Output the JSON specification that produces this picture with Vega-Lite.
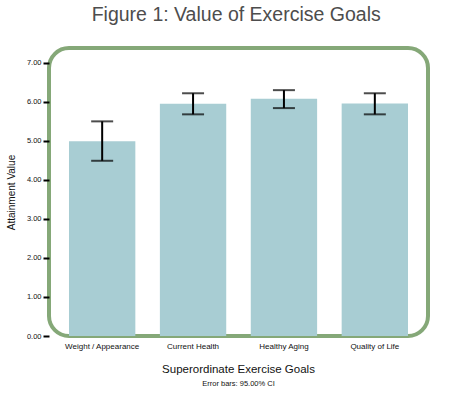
{
  "$schema": "https://vega.github.io/schema/vega-lite/v6.json",
  "padding": {"left": 4, "top": 4, "right": 5, "bottom": 5},
  "background": "white",
  "config": {
    "font": "Liberation Sans",
    "view": {"stroke": "#85a878", "strokeWidth": 4, "cornerRadius": 20}
  },
  "title": {"text": "Figure 1: Value of Exercise Goals", "anchor": "middle", "dx": 19, "fontSize": 19.5, "fontWeight": "normal", "color": "#4d4d4d", "offset": 21},
  "data": {"values": [
    {"goal": "Weight / Appearance", "value": 4.99, "lo": 4.49, "hi": 5.50},
    {"goal": "Current Health", "value": 5.95, "lo": 5.68, "hi": 6.22},
    {"goal": "Healthy Aging", "value": 6.08, "lo": 5.84, "hi": 6.30},
    {"goal": "Quality of Life", "value": 5.96, "lo": 5.68, "hi": 6.22}
  ]},
  "vconcat": [{
    "width": 379,
    "height": 288,
    "title": {"text": "Superordinate Exercise Goals", "orient": "bottom", "anchor": "middle", "fontSize": 11.5, "fontWeight": "normal", "color": "#111", "offset": 14, "subtitle": "Error bars: 95.00% CI", "subtitleFontSize": 7.5, "subtitleColor": "#111", "subtitlePadding": 4},
    "encoding": {
      "x": {"field": "goal", "type": "nominal", "sort": null,
        "scale": {"paddingInner": 0.27, "paddingOuter": 0.22},
        "axis": {"title": null, "labelAngle": 0, "labelFontSize": 8, "labelColor": "#111", "ticks": false, "domain": false, "labelPadding": 6}}
    },
    "layer": [
      {"mark": {"type": "bar", "color": "#a8cdd3"},
       "encoding": {"y": {"field": "value", "type": "quantitative",
         "scale": {"domain": [0, 7.38], "nice": false},
         "axis": {"title": "Attainment Value", "titleFontSize": 10, "titleFontWeight": "normal", "titleColor": "#111", "titlePadding": 10,
           "values": [0, 1, 2, 3, 4, 5, 6, 7], "format": ".2f", "labelFontSize": 7.5, "labelColor": "#111",
           "grid": false, "domain": false, "tickColor": "#000", "tickWidth": 2, "tickSize": 6, "labelPadding": 2}}}},
      {"mark": {"type": "rule", "color": "#000", "strokeWidth": 2},
       "encoding": {"y": {"field": "lo", "type": "quantitative"}, "y2": {"field": "hi"}}},
      {"mark": {"type": "tick", "color": "#000", "thickness": 2, "size": 22},
       "encoding": {"y": {"field": "lo", "type": "quantitative"}}},
      {"mark": {"type": "tick", "color": "#000", "thickness": 2, "size": 22},
       "encoding": {"y": {"field": "hi", "type": "quantitative"}}}
    ]
  }]
}
